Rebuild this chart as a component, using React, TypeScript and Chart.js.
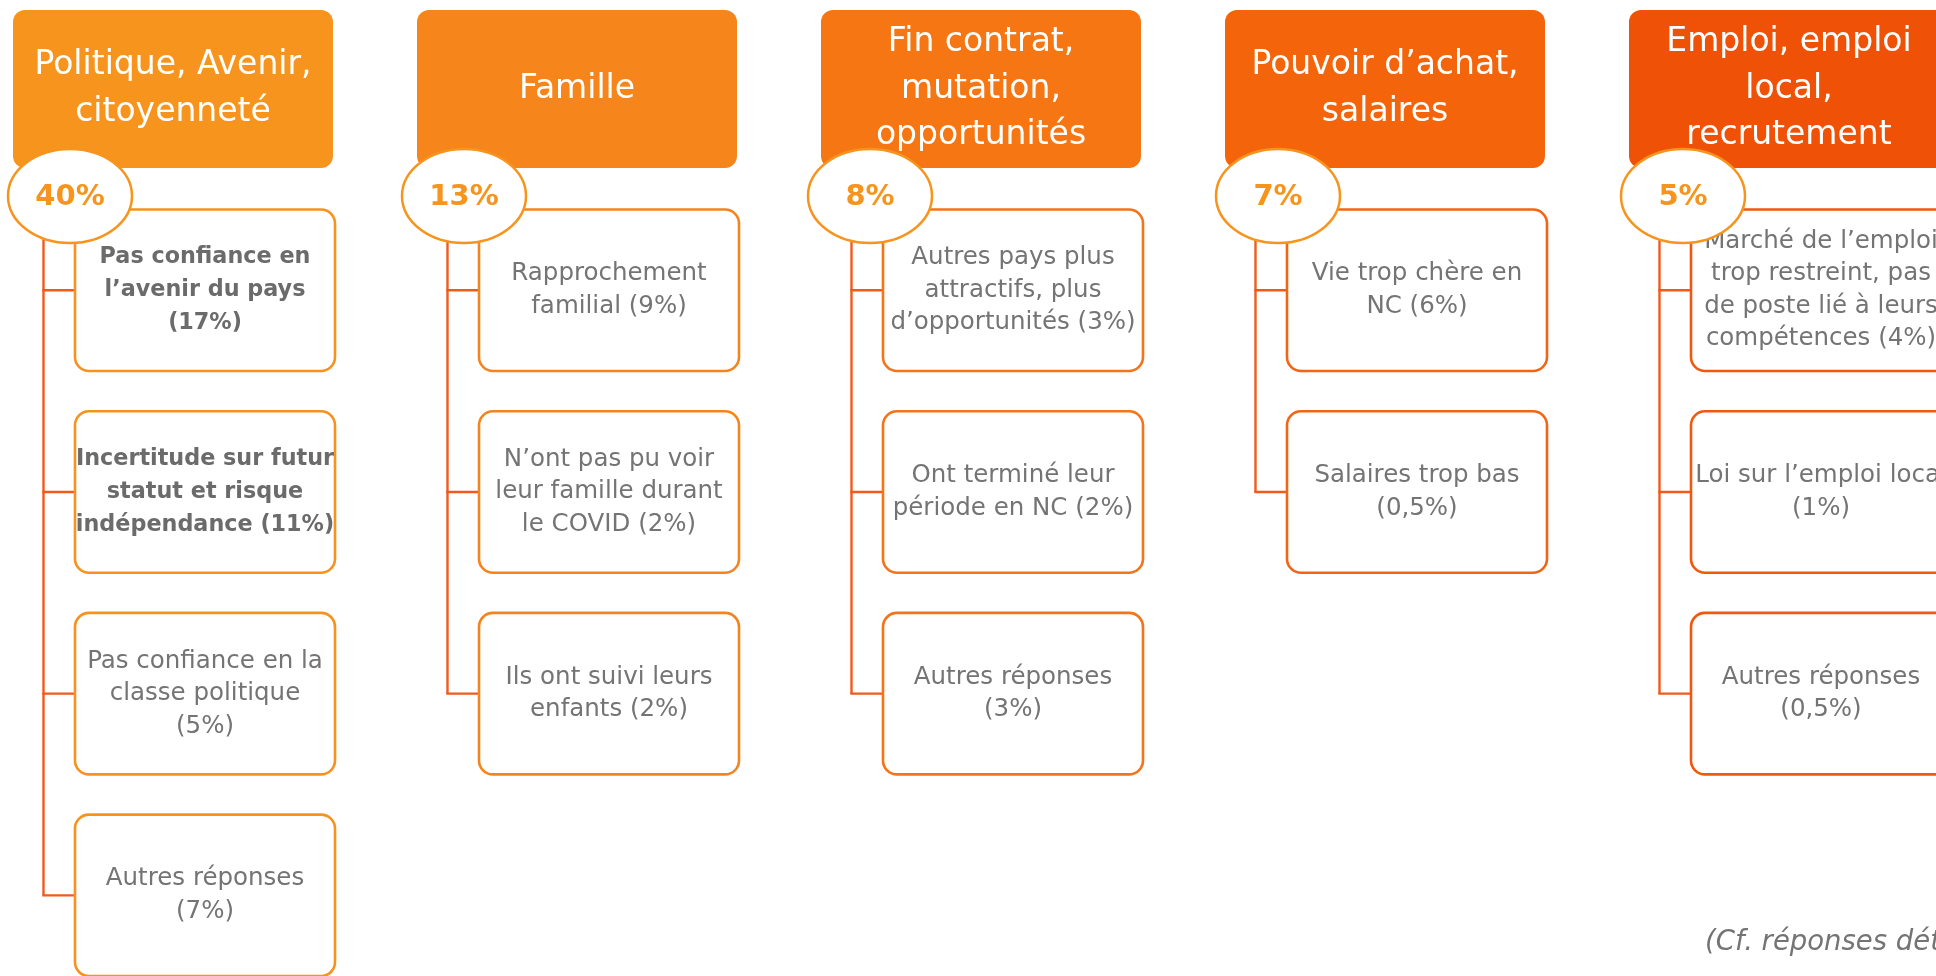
import React, { useEffect, useRef } from "react";
import { Chart, registerables } from "chart.js";

Chart.register(...registerables);

// ---------- DATA ----------
const categories = [
  "Politique, Avenir,\ncitoyenneté",
  "Famille",
  "Fin contrat,\nmutation,\nopportunités",
  "Pouvoir d’achat,\nsalaires",
  "Emploi, emploi\nlocal,\nrecrutement",
];
const categoryShares = [40, 13, 8, 7, 5];

const politiqueReasons = [
  "Pas confiance en\nl’avenir du pays\n",
  "Incertitude sur futur\nstatut et risque\nindépendance ",
  "Pas confiance en la\nclasse politique\n",
  "Autres réponses\n",
];
const politiqueShares = [17, 11, 5, 7];

const familleReasons = [
  "Rapprochement\nfamilial ",
  "N’ont pas pu voir\nleur famille durant\nle COVID ",
  "Ils ont suivi leurs\nenfants ",
];
const familleShares = [9, 2, 2];

const finContratReasons = [
  "Autres pays plus\nattractifs, plus\nd’opportunités ",
  "Ont terminé leur\npériode en NC ",
  "Autres réponses\n",
];
const finContratShares = [3, 2, 3];

const pouvoirAchatReasons = ["Vie trop chère en\nNC ", "Salaires trop bas\n"];
const pouvoirAchatShares = [6, 0.5];

const emploiReasons = [
  "Marché de l’emploi\ntrop restreint, pas\nde poste lié à leurs\ncompétences ",
  "Loi sur l’emploi local\n",
  "Autres réponses\n",
];
const emploiShares = [4, 1, 0.5];

const footnote = "(Cf. réponses détaillées)";

// ---------- STYLE / LAYOUT ----------
const reasonGroups = [
  { labels: politiqueReasons, shares: politiqueShares },
  { labels: familleReasons, shares: familleShares },
  { labels: finContratReasons, shares: finContratShares },
  { labels: pouvoirAchatReasons, shares: pouvoirAchatShares },
  { labels: emploiReasons, shares: emploiShares },
];
const BOLD_ITEMS = ["0-0", "0-1"];
const headerColors = ["#F7941D", "#F6861B", "#F57612", "#F4650B", "#EF5207"];
const boxBorderColors = ["#F7921F", "#F6841E", "#F4741A", "#F26514", "#F0580E"];
const connectorColor = "#F15A1C";
const ellipseColor = "#F7941D";
const textGray = "#747474";
const FONT = "'DejaVu Sans', sans-serif";

const W = 1936;
const H = 976;
const COL_X0 = 13;
const COL_STEP = 404;
const HEADER_TOP = 10;
const HEADER_W = 320;
const HEADER_H = 158;
const BOX_DX = 62;
const BOX_W = 260;
const BOX_TOP = 209.5;
const BOX_H = 161.5;
const BOX_STEP = 201.7;
const LINE_DX = 30.5;
const ELLIPSE_CY = 196;
const ELLIPSE_DX = [57, 47, 49, 53, 54];

const fmt = (v: number) => String(v).replace(".", ",");

function makeEllipse(): HTMLCanvasElement {
  const c = document.createElement("canvas");
  c.width = 130;
  c.height = 100;
  const g = c.getContext("2d")!;
  g.beginPath();
  g.ellipse(65, 50, 62, 47, 0, 0, Math.PI * 2);
  g.fillStyle = "#FFFFFF";
  g.fill();
  g.lineWidth = 2.5;
  g.strokeStyle = ellipseColor;
  g.stroke();
  return c;
}

const diagramPlugin = {
  id: "diagram",
  beforeDatasetsDraw(chart: any) {
    const { ctx } = chart;
    const xs = chart.scales.x;
    const ys = chart.scales.y;
    const px = (v: number) => xs.getPixelForValue(v);
    const py = (v: number) => ys.getPixelForValue(v);

    ctx.save();
    ctx.fillStyle = "#FFFFFF";
    ctx.fillRect(0, 0, chart.width, chart.height);

    categories.forEach((cat, i) => {
      const left = COL_X0 + i * COL_STEP;
      // header
      ctx.beginPath();
      ctx.roundRect(px(left), py(HEADER_TOP), px(left + HEADER_W) - px(left), py(HEADER_TOP + HEADER_H) - py(HEADER_TOP), 12);
      ctx.fillStyle = headerColors[i];
      ctx.fill();
      const hl = cat.split("\n");
      ctx.fillStyle = "#FFFFFF";
      ctx.font = `33px ${FONT}`;
      ctx.textAlign = "center";
      ctx.textBaseline = "middle";
      const hcx = px(left + HEADER_W / 2);
      const hcy = py(HEADER_TOP + HEADER_H / 2);
      hl.forEach((t, k) => ctx.fillText(t, hcx, hcy + (k - (hl.length - 1) / 2) * 46.5));

      const grp = reasonGroups[i];
      const lineX = px(left + LINE_DX);
      const lastMid = BOX_TOP + (grp.labels.length - 1) * BOX_STEP + BOX_H / 2;
      // vertical connector
      ctx.strokeStyle = connectorColor;
      ctx.lineWidth = 2.4;
      ctx.beginPath();
      ctx.moveTo(lineX, py(ELLIPSE_CY));
      ctx.lineTo(lineX, py(lastMid));
      ctx.stroke();

      grp.labels.forEach((lab, j) => {
        const top = BOX_TOP + j * BOX_STEP;
        const mid = top + BOX_H / 2;
        const bl = left + BOX_DX;
        // horizontal connector
        ctx.strokeStyle = connectorColor;
        ctx.lineWidth = 2.4;
        ctx.beginPath();
        ctx.moveTo(lineX - 1.2, py(mid));
        ctx.lineTo(px(bl), py(mid));
        ctx.stroke();
        // box
        ctx.beginPath();
        ctx.roundRect(px(bl), py(top), px(bl + BOX_W) - px(bl), py(top + BOX_H) - py(top), 14);
        ctx.fillStyle = "#FFFFFF";
        ctx.fill();
        ctx.lineWidth = 2.6;
        ctx.strokeStyle = boxBorderColors[i];
        ctx.stroke();
        // text
        const bold = BOLD_ITEMS.includes(`${i}-${j}`);
        const full = `${lab}(${fmt(grp.shares[j])}%)`;
        const lines = full.split("\n");
        ctx.font = bold ? `bold 22.3px ${FONT}` : `24.5px ${FONT}`;
        ctx.fillStyle = bold ? "#6B6B6B" : textGray;
        const lh = bold ? 33 : 32.5;
        const tcx = px(bl + BOX_W / 2);
        const tcy = py(mid);
        lines.forEach((t, k) => ctx.fillText(t, tcx, tcy + (k - (lines.length - 1) / 2) * lh));
      });
    });
    ctx.restore();
  },
  afterDatasetsDraw(chart: any) {
    const { ctx } = chart;
    const meta = chart.getDatasetMeta(0);
    ctx.save();
    ctx.font = `bold 29px ${FONT}`;
    ctx.fillStyle = ellipseColor;
    ctx.textAlign = "center";
    ctx.textBaseline = "middle";
    meta.data.forEach((pt: any, i: number) => {
      ctx.fillText(`${fmt(categoryShares[i])}%`, pt.x, pt.y + 1);
    });
    ctx.font = `italic 27.5px ${FONT}`;
    ctx.fillStyle = textGray;
    ctx.textAlign = "left";
    ctx.textBaseline = "alphabetic";
    ctx.fillText(footnote, chart.scales.x.getPixelForValue(1705), chart.scales.y.getPixelForValue(950));
    ctx.restore();
  },
};

export default function App() {
  const ref = useRef<HTMLCanvasElement>(null);
  useEffect(() => {
    if (!ref.current) return;
    const ellipse = makeEllipse();
    const chart = new Chart(ref.current, {
      type: "scatter",
      data: {
        labels: categories,
        datasets: [
          {
            label: "Part des départs",
            data: categoryShares.map((_, i) => ({ x: COL_X0 + i * COL_STEP + ELLIPSE_DX[i], y: ELLIPSE_CY })),
            pointStyle: ellipse as any,
            pointRadius: 10,
            pointHoverRadius: 10,
            clip: false as any,
          },
        ],
      },
      options: {
        animation: false,
        responsive: false,
        devicePixelRatio: 1,
        events: [],
        layout: { padding: 0, autoPadding: false },
        scales: {
          x: { type: "linear", min: 0, max: W, display: false },
          y: { type: "linear", min: 0, max: H, reverse: true, display: false },
        },
        plugins: { legend: { display: false }, tooltip: { enabled: false } },
      },
      plugins: [diagramPlugin],
    });
    return () => chart.destroy();
  }, []);
  return (
    <div style={{ position: "fixed", left: 0, top: 0, width: W, height: H, background: "#fff" }}>
      <canvas ref={ref} width={W} height={H} style={{ display: "block" }} />
    </div>
  );
}
